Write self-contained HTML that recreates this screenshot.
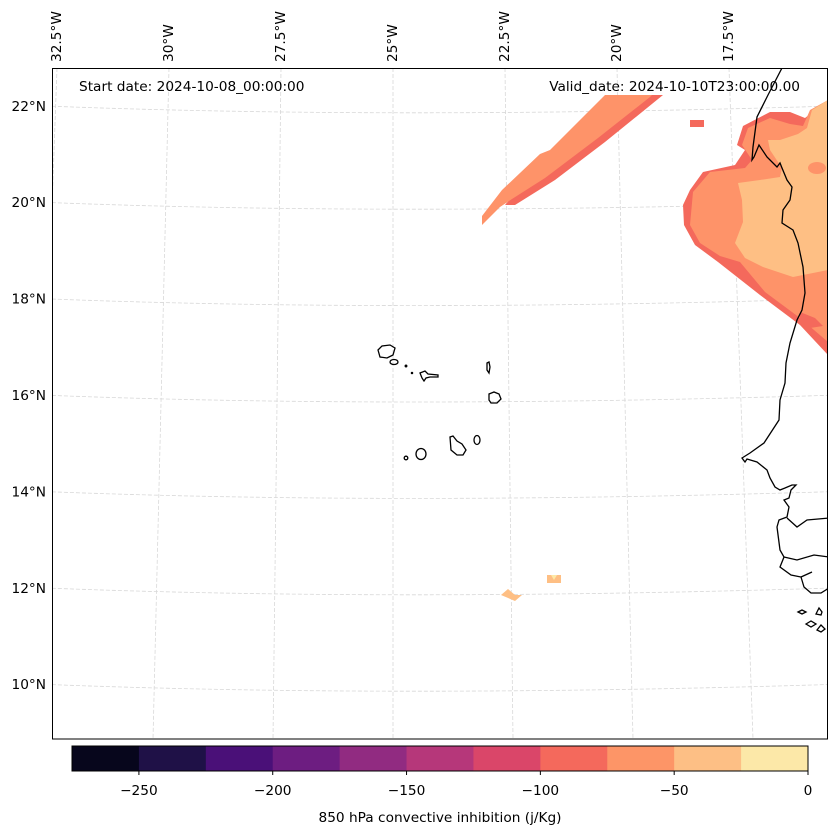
<!DOCTYPE html>
<html><head><meta charset="utf-8"><style>
html,body{margin:0;padding:0;background:#fff;}
svg{display:block;font-family:"DejaVu Sans","Liberation Sans",sans-serif;}
</style></head><body>
<svg id="fig" width="837" height="836" viewBox="0 0 837 836" xmlns="http://www.w3.org/2000/svg">
<defs><clipPath id="mapclip"><rect x="52" y="68" width="776" height="671"/></clipPath></defs>
<g id="grid" clip-path="url(#mapclip)"></g>
<g clip-path="url(#mapclip)">
  <polygon fill="#f4695c" points="505,205 515,205 555,180 605,142 663,95 650,95 600,136 545,176 512,197"/>
  <polygon fill="#fe9369" points="482,216 482,225 500,207 512,199 545,178 598,138 650,97 652,95 605,95 550,150 540,154 502,190"/>
  <polygon fill="#f4695c" points="828,100 805,118 790,112 770,112 743,126 737,145 745,150 735,165 703,172 690,190 683,205 684,225 695,245 718,262 760,295 800,325 828,355"/>
  <polygon fill="#fe9369" points="828,100 810,110 803,126 790,124 770,118 748,128 742,145 752,160 745,168 710,172 693,192 690,225 700,243 720,256 740,262 765,292 800,318 828,342"/>
  <polygon fill="#febf84" points="828,100 812,110 807,128 798,134 780,140 768,140 770,150 782,168 780,177 760,180 738,183 742,200 743,222 735,243 745,258 763,267 793,277 828,270"/>
  <ellipse fill="#fe9369" cx="817" cy="168" rx="9" ry="6"/>
  <polygon fill="#f4695c" points="800,312 815,318 823,326 810,328 800,320"/>
  <rect fill="#f4695c" x="690" y="120" width="14" height="7"/>
  <rect fill="#febf84" x="547" y="575" width="14" height="8"/>
  <polygon fill="#fde9a7" points="551,575 557,575 554,580"/>
  <polygon fill="#febf84" points="501,595 508,589 515,595 522,595 515,601"/>
</g>
<g clip-path="url(#mapclip)" fill="none" stroke="#000" stroke-width="1.3">
  <polyline points="782,68 768,95 757,117 753,147 752,160 754,157 759,145 767,157 777,167 780,163 782,168 787,180 792,187 790,200 783,210 782,223 793,230 798,243 803,267 805,293 802,310 797,320 790,343 786,363 785,383 780,400 779,420 764,443 750,453 742,458 745,462 747,459 757,462 767,470 770,478 775,487 780,490 785,488 792,485 796,485 791,490 789,498 784,500 789,507 787,517 779,520 777,527 780,550 784,557 780,567 791,575 801,577 804,587 811,593 821,593 829,588"/>
  <polyline points="787,518 797,527 807,520 829,518"/>
  <polyline points="784,557 797,560 814,555 829,557"/>
  <polyline points="801,577 812,572"/>
  <path d="M798,612 l4,-2 4,2 -4,2z"/>
  <path d="M816,614 l3,-6 3,4 -1,3z"/>
  <path d="M806,624 l5,-3 5,3 -5,3z"/>
  <path d="M817,630 l4,-5 4,4 -4,3z"/>
  <path d="M378,350 l4,-4 8,-1 5,3 -2,7 -6,3 -7,-1z"/>
  <ellipse cx="394" cy="362" rx="4" ry="2.5"/>
  <circle cx="406" cy="366" r="0.8"/>
  <circle cx="412" cy="373" r="0.6"/>
  <path d="M420,373 l5,-2 3,3 10,1 0,2 -8,0 -4,1 -2,3 -2,-3z"/>
  <path d="M487,363 l2,-1 1,5 -1,6 -2,-3z"/>
  <path d="M489,394 l5,-2 5,2 2,5 -4,4 -6,0 -2,-3z"/>
  <ellipse cx="477" cy="440" rx="3" ry="4.5"/>
  <path d="M450,437 l3,-1 4,5 5,3 4,6 -3,5 -6,0 -6,-5z"/>
  <ellipse cx="421" cy="454" rx="5" ry="5.5"/>
  <circle cx="406" cy="458" r="1.8"/>
</g>
<rect x="52.5" y="68.5" width="775" height="670.5" fill="none" stroke="#000" stroke-width="1"/>
<g id="labels" font-size="13.7" fill="#000"></g>
<text x="79" y="91" font-size="13.7">Start date: 2024-10-08_00:00:00</text>
<text x="800" y="91" font-size="13.7" text-anchor="end">Valid_date: 2024-10-10T23:00:00.00</text>
<g id="cbar"></g>
<text x="440" y="822" font-size="13.7" text-anchor="middle">850 hPa convective inhibition (j/Kg)</text>
</svg>
<script>
const levels = [-275,-250,-225,-200,-175,-150,-125,-100,-75,-50,-25,0];
const levelColors = ["#07061c","#1f1147","#4a1078","#6d1d81","#912b81","#b6377a","#da4669","#f4695c","#fd9567","#fdbf85","#fce8a8"];
const tickValues = [-250,-200,-150,-100,-50,0];
const tickLabels = ["\u2212250","\u2212200","\u2212150","\u2212100","\u221250","0"];
const lonValues = [-32.5,-30,-27.5,-25,-22.5,-20,-17.5];
const lonLabels = ["32.5°W","30°W","27.5°W","25°W","22.5°W","20°W","17.5°W"];
const latValues = [22,20,18,16,14,12,10];
const latLabels = ["22°N","20°N","18°N","16°N","14°N","12°N","10°N"];
const NS="http://www.w3.org/2000/svg";
function mk(tag,attrs,parent){const e=document.createElementNS(NS,tag);for(const k in attrs)e.setAttribute(k,attrs[k]);parent.appendChild(e);return e;}
const cbX0=72,cbX1=808,cbY=746,cbH=25;
function cx(v){return cbX0+(v-levels[0])/(levels[levels.length-1]-levels[0])*(cbX1-cbX0);}
const cb=document.getElementById('cbar');
for(let i=0;i<levelColors.length;i++){
  const r=mk('rect',{x:cx(levels[i]),y:cbY,width:cx(levels[i+1])-cx(levels[i])+0.5,height:cbH,fill:levelColors[i]},cb);
  
  
}
const fr=mk('rect',{x:cbX0,y:cbY,width:cbX1-cbX0,height:cbH,fill:'none',stroke:'#000','stroke-width':1},cb);


tickValues.forEach((v,i)=>{
  const t=mk('line',{x1:cx(v),x2:cx(v),y1:cbY+cbH,y2:cbY+cbH+4,stroke:'#000'},cb);
  
  
  const l=mk('text',{x:cx(v),y:cbY+cbH+24,'font-size':13.7,'text-anchor':'middle'},cb);
  l.textContent=tickLabels[i];
  
  
});
function lonX(lon,y){const s=112+(y-68)/671*8;return 393+(lon+25)/2.5*s;}
function latY(lat,x){const dx=x-393;return 402-(lat-16)*48.2-7*(dx/340)*(dx/340);}
const grid=document.getElementById('grid'),lab=document.getElementById('labels');
lonValues.forEach((lon,i)=>{
  const g=mk('line',{x1:lonX(lon,68),y1:68,x2:lonX(lon,739),y2:739,stroke:'#d8d8d8','stroke-width':0.8,'stroke-dasharray':'4,2'},grid);
  
  
  const x=lonX(lon,68)+4, y=62;
  const t=mk('text',{x:x,y:y,transform:`rotate(-90 ${x} ${y})`},lab);
  t.textContent=lonLabels[i];
  
  
});
latValues.forEach((lat,i)=>{
  const yl=latY(lat,52),ym=latY(lat,393);
  const g=mk('path',{d:`M40,${yl} Q393,${2*ym-yl} 840,${yl}`,fill:'none',stroke:'#d8d8d8','stroke-width':0.8,'stroke-dasharray':'4,2'},grid);
  
  
  const t=mk('text',{x:46,y:yl+5,'text-anchor':'end'},lab);
  t.textContent=latLabels[i];
  
  
});
</script>
</body></html>
